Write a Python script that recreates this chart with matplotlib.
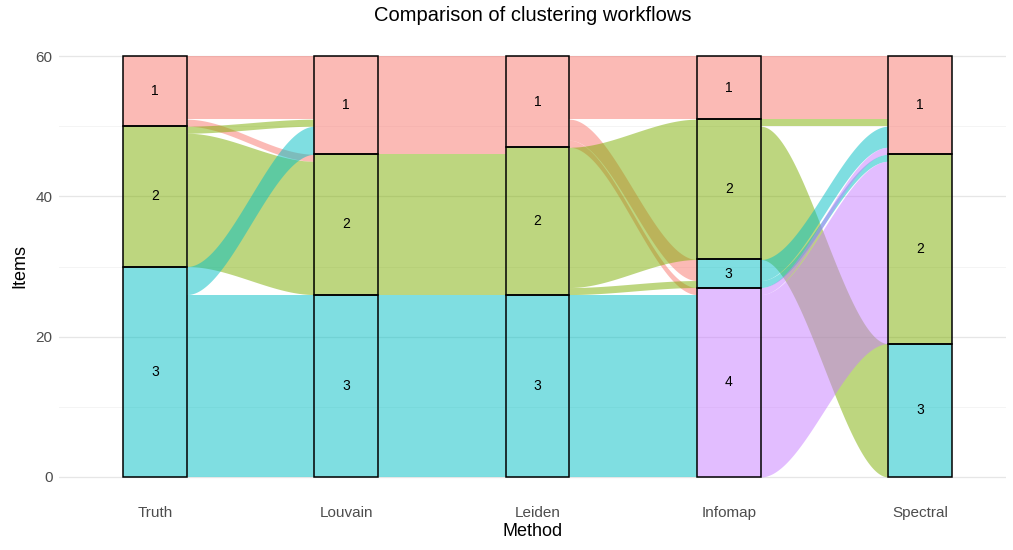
import matplotlib.pyplot as plt
import numpy as np
from matplotlib.patches import Rectangle

plt.rcParams['font.family'] = ['Liberation Sans', 'DejaVu Sans']

methods = ["Truth", "Louvain", "Leiden", "Infomap", "Spectral"]
cluster_colors = {1: "#F8766D", 2: "#7CAE00", 3: "#00BFC4", 4: "#C77CFF"}

# (from cluster, to cluster, items) for each neighbouring pair of methods
truth_louvain = [(1, 1, 9), (1, 2, 1), (2, 1, 1), (2, 2, 19), (3, 1, 4), (3, 3, 26)]
louvain_leiden = [(1, 1, 13), (1, 2, 1), (2, 2, 20), (3, 3, 26)]
leiden_infomap = [(1, 1, 9), (1, 3, 3), (1, 4, 1), (2, 2, 20), (2, 3, 1), (3, 4, 26)]
infomap_spectral = [(1, 1, 9), (2, 1, 1), (2, 3, 19), (3, 1, 3), (3, 2, 1), (4, 1, 1), (4, 2, 26)]
pairs = [truth_louvain, louvain_leiden, leiden_infomap, infomap_spectral]

alpha = 0.5
width = 1 / 3


def strata_sizes(flows, side):
    sizes = {}
    for f in flows:
        sizes[f[side]] = sizes.get(f[side], 0) + f[2]
    return dict(sorted(sizes.items()))


def strata_tops(sizes):
    total = sum(sizes.values())
    tops, acc = {}, total
    for k in sorted(sizes):
        tops[k] = acc
        acc -= sizes[k]
    return tops


fig = plt.figure(figsize=(10.13, 5.5), dpi=100)
ax = fig.add_axes([59.4 / 1013, 52 / 550, (1006 - 59.4) / 1013, (515 - 52) / 550])

# horizontal grid
for yv in [10, 30, 50]:
    ax.axhline(yv, color="#f2f2f2", lw=0.6, zorder=0)
for yv in [0, 20, 40, 60]:
    ax.axhline(yv, color="#e6e6e6", lw=0.9, zorder=0)

t = np.linspace(0, 1, 120)
s = 3 * t ** 2 - 2 * t ** 3

for i, flows in enumerate(pairs):
    x0 = i + 1 + width / 2
    x1 = i + 2 - width / 2
    left_tops = strata_tops(strata_sizes(flows, 0))
    right_tops = strata_tops(strata_sizes(flows, 1))
    # left side: within source stratum, order by target
    lpos = {}
    cur = dict(left_tops)
    for f in sorted(flows, key=lambda f: (f[0], f[1])):
        lpos[(f[0], f[1])] = cur[f[0]]
        cur[f[0]] -= f[2]
    # right side: within target stratum, order by source
    rpos = {}
    cur = dict(right_tops)
    for f in sorted(flows, key=lambda f: (f[1], f[0])):
        rpos[(f[0], f[1])] = cur[f[1]]
        cur[f[1]] -= f[2]
    for a, b, n in flows:
        ytop = lpos[(a, b)] + (rpos[(a, b)] - lpos[(a, b)]) * s
        xs = x0 + (x1 - x0) * t
        ax.fill_between(xs, ytop - n, ytop, color=cluster_colors[a], alpha=alpha,
                        lw=0, zorder=2)

# strata
for i, m in enumerate(methods):
    if i < len(pairs):
        sizes = strata_sizes(pairs[i], 0)
    else:
        sizes = strata_sizes(pairs[-1], 1)
    tops = strata_tops(sizes)
    for k, n in sizes.items():
        ax.add_patch(Rectangle((i + 1 - width / 2, tops[k] - n), width, n,
                               facecolor=cluster_colors[k], alpha=alpha, lw=0, zorder=3))
        ax.add_patch(Rectangle((i + 1 - width / 2, tops[k] - n), width, n,
                               facecolor="none", edgecolor="black", lw=1.1, zorder=4))
        ax.text(i + 1, tops[k] - n / 2, str(k), ha="center", va="center",
                fontsize=10, zorder=5)

ax.set_xlim(0.5, 5.45)
ax.set_ylim(-3, 63)
ax.set_xticks(range(1, 6))
ax.set_xticklabels(methods)
ax.set_yticks([0, 20, 40, 60])
ax.tick_params(length=0, labelsize=11, labelcolor="#4d4d4d", pad=6)
ax.tick_params(axis="y", pad=5)
for sp in ax.spines.values():
    sp.set_visible(False)
ax.set_xlabel("Method", fontsize=13, labelpad=2)
ax.set_ylabel("Items", fontsize=13, labelpad=5)
ax.set_title("Comparison of clustering workflows", fontsize=14.5, pad=10)

plt.savefig("out.png")
